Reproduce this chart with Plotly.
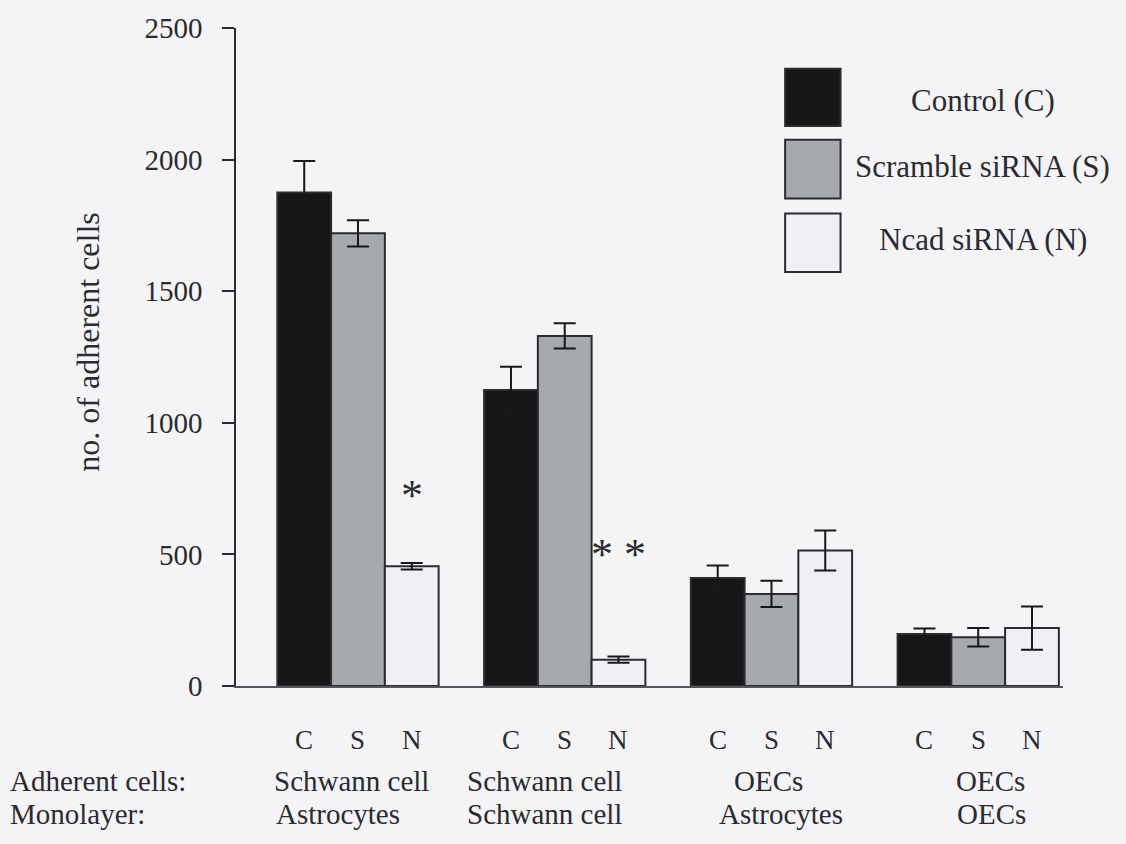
import plotly.graph_objects as go

# Treatment series (bars in each group: Control, Scramble siRNA, Ncad siRNA)
groups = [0, 1, 2, 3]
adherent_cells = ["Schwann cell", "Schwann cell", "OECs", "OECs"]
monolayer = ["Astrocytes", "Schwann cell", "Astrocytes", "OECs"]
bar_letters = ["C", "S", "N"]

control_vals = [1875, 1125, 410, 198]
control_err = [120, 88, 48, 20]
scramble_vals = [1720, 1330, 350, 185]
scramble_err = [50, 48, 50, 35]
ncad_vals = [455, 100, 515, 220]
ncad_err = [12, 12, 76, 82]

series_names = ["Control (C)", "Scramble siRNA (S)", "Ncad siRNA (N)"]
y_ticks = [0, 500, 1000, 1500, 2000, 2500]

# significance marks above the Ncad bars: (group, label, y position)
sig_marks = [(0, "*", 725), (1, "* *", 500)]

FONT = "Liberation Serif"
INK = "#2b2b30"
ERR_INK = "#18181a"
BG = "#f4f4f6"
fills = ["#161616", "#a6a9ae", "#efeff6"]

# horizontal nudges (px) for the two rows of group captions
adherent_nudge = [-6, -20, -3, 12]
monolayer_nudge = [-20, -20, 10, 13]

BARGAP = 0.22
bar_w = (1 - BARGAP) / 3
offsets = [-bar_w, 0.0, bar_w]

fig = go.Figure()
for name, vals, errs, col in zip(
    series_names,
    [control_vals, scramble_vals, ncad_vals],
    [control_err, scramble_err, ncad_err],
    fills,
):
    fig.add_trace(
        go.Bar(
            x=groups,
            y=vals,
            name=name,
            marker=dict(color=col, line=dict(color=INK, width=2)),
            error_y=dict(type="data", array=errs, visible=True,
                         color=ERR_INK, thickness=2, width=11),
            showlegend=False,
        )
    )

annotations = []

# letters under every bar
for g in groups:
    for off, letter in zip(offsets, bar_letters):
        annotations.append(dict(
            x=g + off, y=-0.082, xref="x", yref="paper", text=letter,
            showarrow=False, font=dict(family=FONT, size=27, color=INK),
            xanchor="center", yanchor="middle"))

ROW1, ROW2 = -0.144, -0.194

# group descriptions
for g, a, m, na, nm in zip(groups, adherent_cells, monolayer,
                           adherent_nudge, monolayer_nudge):
    annotations.append(dict(
        x=g, y=ROW1, xref="x", yref="paper", text=a, showarrow=False, xshift=na,
        font=dict(family=FONT, size=29, color=INK), xanchor="center", yanchor="middle"))
    annotations.append(dict(
        x=g, y=ROW2, xref="x", yref="paper", text=m, showarrow=False, xshift=nm,
        font=dict(family=FONT, size=29, color=INK), xanchor="center", yanchor="middle"))

for txt, yp in [("Adherent cells:", ROW1), ("Monolayer:", ROW2)]:
    annotations.append(dict(
        x=-0.276, y=yp, xref="paper", yref="paper", text=txt, showarrow=False,
        font=dict(family=FONT, size=29, color=INK), xanchor="left", yanchor="middle"))

# y axis title
annotations.append(dict(
    x=-0.180, y=0.522, xref="paper", yref="paper", text="no. of adherent cells",
    textangle=-90, showarrow=False, font=dict(family=FONT, size=32, color=INK),
    xanchor="center", yanchor="middle"))

# significance asterisks
for g, lab, yv in sig_marks:
    annotations.append(dict(
        x=g + offsets[2], y=yv, xref="x", yref="y", text=lab, showarrow=False,
        font=dict(family=FONT, size=44, color=INK), xanchor="center", yanchor="middle"))

# legend: filled boxes with centred captions
shapes = []
legend_rows = [(0.938, 0.851, 0.890), (0.830, 0.741, 0.789), (0.718, 0.629, 0.678)]
for (y1, y0, yt), col, name in zip(legend_rows, fills, series_names):
    shapes.append(dict(type="rect", xref="paper", yref="paper",
                       x0=0.664, x1=0.731, y0=y0, y1=y1,
                       fillcolor=col, line=dict(color=INK, width=2)))
    annotations.append(dict(
        x=0.903, y=yt, xref="paper", yref="paper", text=name, showarrow=False,
        font=dict(family=FONT, size=31, color=INK), xanchor="center", yanchor="middle"))

fig.update_layout(
    width=1126, height=844,
    margin=dict(l=236, r=63, t=25, b=158),
    paper_bgcolor=BG, plot_bgcolor=BG,
    barmode="group", bargap=BARGAP, bargroupgap=0,
    annotations=annotations, shapes=shapes,
    font=dict(family=FONT, color=INK),
)
fig.update_xaxes(
    range=[-0.59, 3.41], showticklabels=False, ticks="", showgrid=False,
    zeroline=False, showline=True, linecolor="#55555c", linewidth=1.5,
)
fig.update_yaxes(
    range=[0, 2500], tickvals=y_ticks, ticktext=[str(v) for v in y_ticks],
    ticks="outside", ticklen=12, tickwidth=1.5, tickcolor=INK,
    showline=True, linecolor=INK, linewidth=1.5, showgrid=False, zeroline=False,
    tickfont=dict(family=FONT, size=29, color=INK), ticklabelstandoff=14,
)

fig.write_html("out.html")
